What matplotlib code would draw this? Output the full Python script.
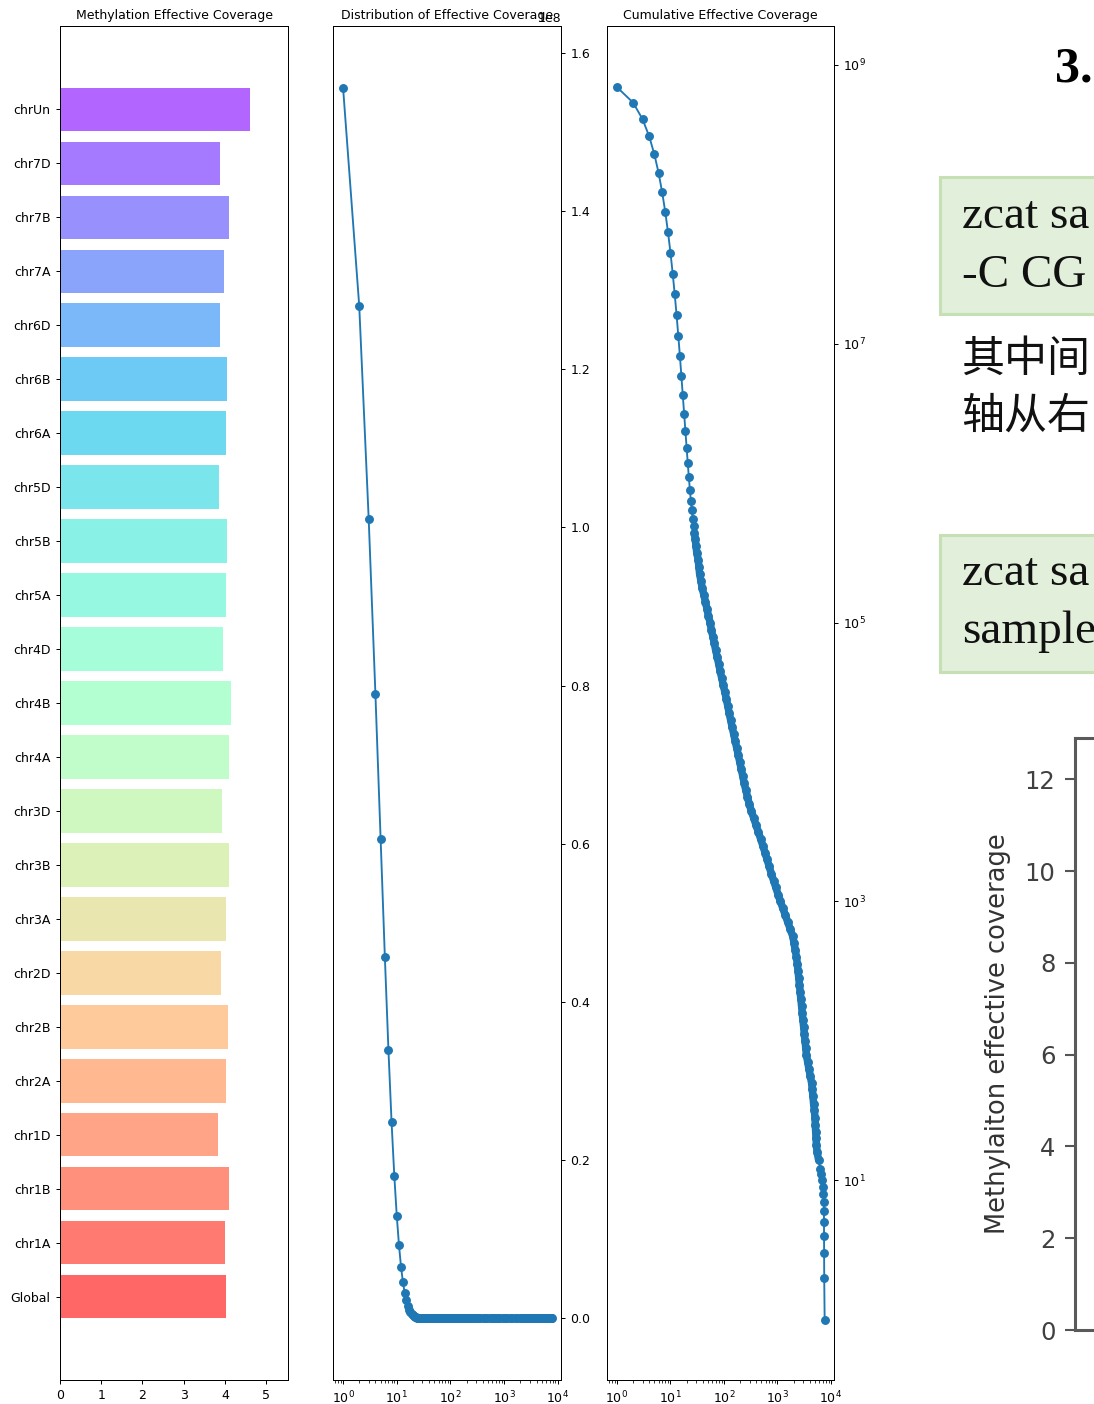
import numpy as np
import matplotlib
matplotlib.use('Agg')
import matplotlib.pyplot as plt
from matplotlib.patches import Rectangle
from matplotlib.ticker import NullLocator

# mean effective coverage per chromosome (bottom -> top)
chroms = ['Global', 'chr1A', 'chr1B', 'chr1D', 'chr2A', 'chr2B', 'chr2D',
          'chr3A', 'chr3B', 'chr3D', 'chr4A', 'chr4B', 'chr4D',
          'chr5A', 'chr5B', 'chr5D', 'chr6A', 'chr6B', 'chr6D',
          'chr7A', 'chr7B', 'chr7D', 'chrUn']
mean_cov = [4.03, 4.00, 4.10, 3.83, 4.03, 4.08, 3.91,
            4.03, 4.10, 3.93, 4.10, 4.15, 3.96,
            4.03, 4.05, 3.86, 4.03, 4.05, 3.88,
            3.98, 4.10, 3.88, 4.61]

# number of CpG sites at each low coverage value (coverage 1..27)
head_cov = [1, 2, 3, 4, 5, 6, 7, 8, 9, 10, 11, 12, 13, 14,
            15, 16, 17, 18, 19, 20, 21, 22, 23, 24, 25, 26, 27]
head_dist = [155600000, 128000000, 101100000, 79000000, 60600000,
             45700000, 33900000, 24800000, 18000000, 12960000,
             9250000, 6520000, 4630000, 3280000, 2310000,
             1600000, 1120000, 790000, 550000, 400000,
             290000, 210000, 150000, 110000, 85000, 64000, 50000]

# high coverage tail: sites with coverage >= value
tail_cov = [28, 29, 30, 31, 33, 34, 35, 37, 39, 42,
            45, 48, 51, 55, 58, 62, 66, 70, 75, 80,
            85, 91, 97, 104, 111, 118, 125, 133, 142, 152,
            162, 173, 185, 197, 210, 224, 238, 255, 275, 296,
            323, 358, 395, 437, 482, 533, 584, 639, 699, 769,
            845, 930, 1028, 1136, 1262, 1404, 1562, 1736, 1930, 2043,
            2151, 2265, 2354, 2427, 2502, 2579, 2658, 2738, 2821, 2906,
            2994, 3085, 3180, 3278, 3378, 3482, 3655, 3871, 4099, 4340,
            4477, 4610, 4747, 4887, 5028, 5108, 5188, 5269, 5352, 5495,
            5868, 6302, 6491, 6699, 6998, 7178, 7311, 7396, 7413, 7430,
            7447, 7482, 7621]
tail_cum = [440000, 398000, 355000, 316000, 282000, 251000, 224000, 200000, 178000, 158000,
            141000, 126000, 112000, 100000, 89100, 79400, 70800, 63100, 56200, 50100,
            44700, 39800, 35500, 31600, 28200, 25100, 22400, 20000, 17800, 15800,
            14100, 12600, 11200, 10000, 8910, 7940, 7080, 6310, 5620, 5010,
            4470, 3980, 3550, 3160, 2820, 2510, 2240, 2000, 1780, 1580,
            1410, 1260, 1120, 1000, 891, 794, 708, 631, 562, 501,
            447, 398, 355, 316, 282, 251, 224, 200, 178, 158,
            141, 126, 112, 100, 89, 79, 71, 63, 56, 50,
            45, 40, 35, 32, 28, 25, 22, 20, 18, 16,
            14, 12, 11, 10, 9, 8, 7, 6, 5, 4,
            3, 2, 1]

# y ticks of the pasted chart on the right
shot_yticks = [0, 2, 4, 6, 8, 10, 12]

W, H = 1094, 1404
fs = 9
ms = 5.4
blue = '#1f77b4'

tail_cum_a = np.array(tail_cum, dtype=float)
head_cum = tail_cum_a[0] + np.cumsum(np.array(head_dist, dtype=float)[::-1])[::-1]
cov = np.array(head_cov + tail_cov, dtype=float)
cum = np.concatenate([head_cum, tail_cum_a])
dist = np.concatenate([np.array(head_dist, dtype=float),
                       tail_cum_a[:-1] - tail_cum_a[1:], tail_cum_a[-1:]])

fig = plt.figure(figsize=(W / 100, H / 100), dpi=100)

# ---- panel 1: bars
ax1 = fig.add_axes([60 / W, 24 / H, 228 / W, 1354 / H])
colors = plt.cm.rainbow(np.linspace(1, 0, len(chroms)))
ax1.barh(chroms, mean_cov, color=colors, alpha=0.6)
ax1.set_xlim(0, 5.53)
ax1.set_xticks([0, 1, 2, 3, 4, 5])
ax1.set_title('Methylation Effective Coverage', fontsize=fs, pad=5, y=1.0)

# ---- panel 2: distribution
ax2 = fig.add_axes([333 / W, 24 / H, 228 / W, 1354 / H])
ax2.plot(cov, dist, 'o-', ms=ms, lw=1.35, color=blue)
ax2.set_xscale('log')
ax2.set_xlim(0.65, 11400)
ax2.yaxis.tick_right()
ax2.set_title('Distribution of Effective Coverage', fontsize=fs, pad=5, y=1.0)

# ---- panel 3: cumulative
ax3 = fig.add_axes([607 / W, 24 / H, 227 / W, 1354 / H])
# the tail is a solid band of overlapping markers in the original
dense = (cov >= 28) & (cum >= 14)
ax3.plot(cov[dense], cum[dense], '-', lw=ms, color=blue, solid_capstyle='round')
ax3.plot(cov, cum, 'o-', ms=ms, lw=1.35, color=blue)
ax3.set_xscale('log')
ax3.set_yscale('log')
ax3.set_xlim(0.65, 11400)
ax3.set_ylim(0.369, 1.9e9)
ax3.set_yticks([1e1, 1e3, 1e5, 1e7, 1e9])
ax3.yaxis.set_minor_locator(NullLocator())
ax3.yaxis.tick_right()
ax3.set_title('Cumulative Effective Coverage', fontsize=fs, pad=5, y=1.0)

for ax in (ax1, ax2, ax3):
    ax.tick_params(labelsize=fs, length=3.2, width=0.72)
    ax.tick_params(which='minor', length=1.8, width=0.55)
    for s in ax.spines.values():
        s.set_linewidth(0.72)
ax2.yaxis.get_offset_text().set_fontsize(fs)

# ---- pasted document screenshot on the right
def fx(x):
    return x / W

def fy(y):
    return 1 - y / H

fig.text(fx(1055), fy(81), '3.', fontsize=36, family='Liberation Serif',
         weight='bold', va='baseline')

for top, bot in [(177, 314), (535, 672)]:
    fig.add_artist(Rectangle((fx(940), fy(bot)), 0.3, (bot - top) / H,
                             transform=fig.transFigure, facecolor='#e2efda',
                             edgecolor='#c5e0b4', lw=2.2))

serif = dict(fontsize=34, family='Liberation Serif', va='baseline', color='#111111')
fig.text(fx(962), fy(228), 'zcat sa', **serif)
fig.text(fx(962), fy(287), '-C CG', **serif)
fig.text(fx(962), fy(585), 'zcat sa', **serif)
fig.text(fx(962), fy(643), 'sample', **serif)

cjk = dict(fontsize=31, family=['Noto Sans CJK SC', 'DejaVu Sans'], va='baseline',
           color='#111111')
fig.text(fx(961), fy(372), '其中间', **cjk)
fig.text(fx(961), fy(429), '轴从右', **cjk)

ax4 = fig.add_axes([1075 / W, 74 / H, 0.3, 592 / H])
ax4.set_ylim(0, 12.9)
ax4.set_xlim(0, 1)
ax4.set_yticks(shot_yticks)
ax4.set_xticks([])
ax4.tick_params(axis='y', labelsize=17.5, length=7, width=1.5, pad=7,
                colors='#555555', labelcolor='#404040')
for s in ax4.spines.values():
    s.set_linewidth(2.2)
    s.set_color('#5a5a5a')
fig.text(fx(998), fy(1034), 'Methylaiton effective coverage', rotation=90,
         fontsize=18.5, ha='center', va='center', color='#333333')

fig.savefig('out.png', dpi=100)
